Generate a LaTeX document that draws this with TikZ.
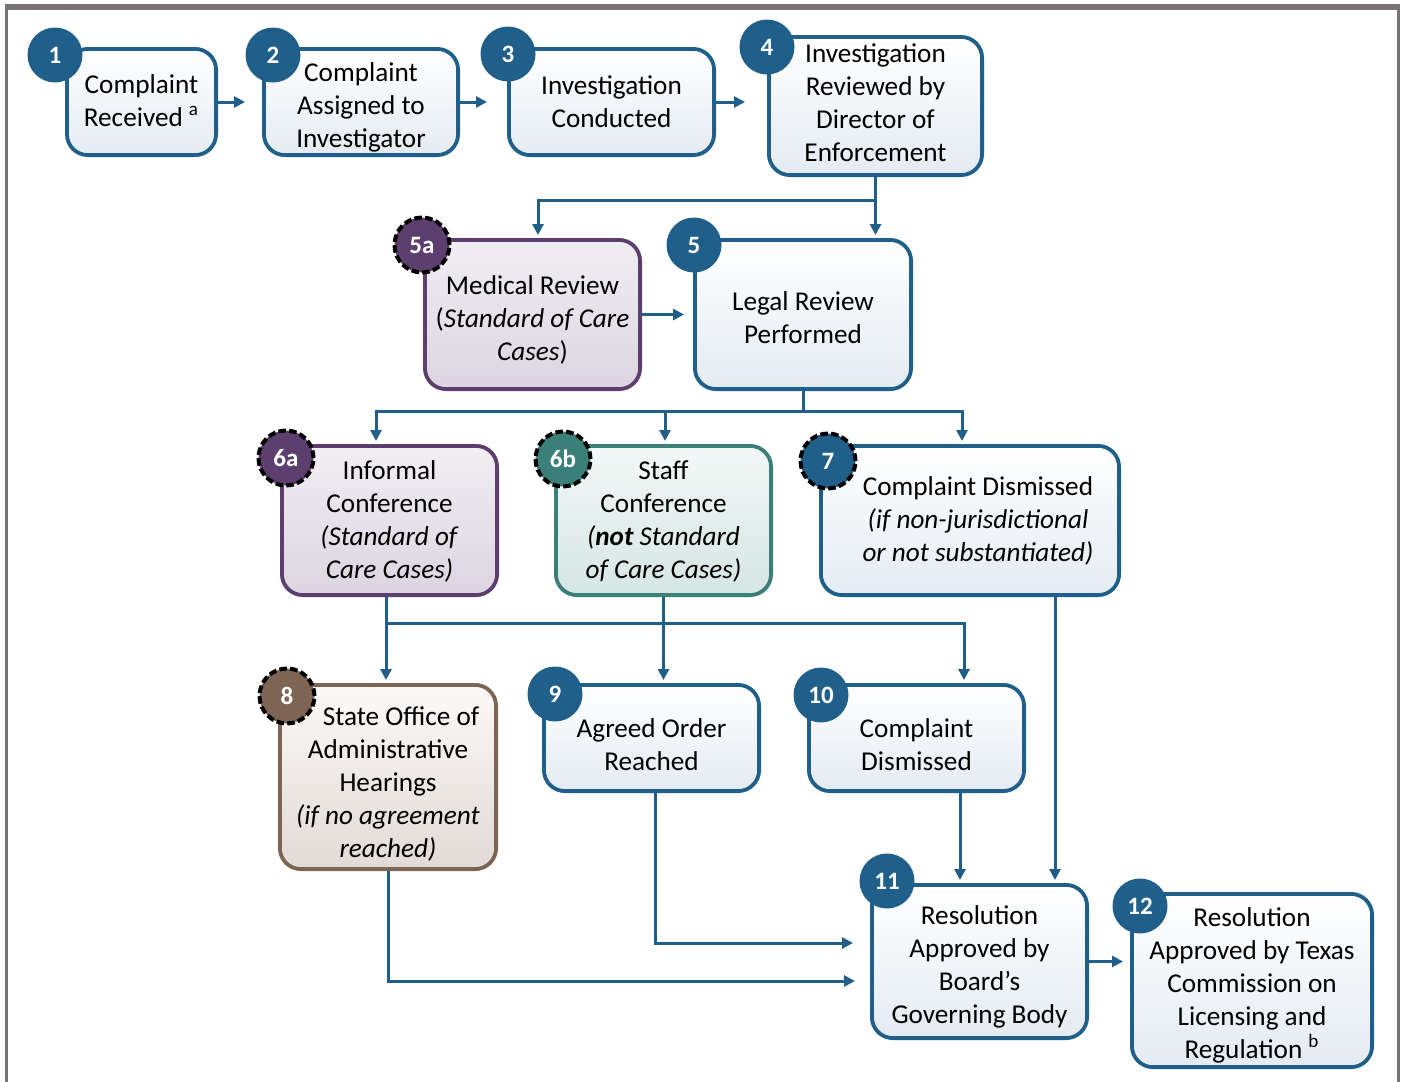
\documentclass[tikz,border=0pt]{standalone}
\usepackage{fontspec}
\setmainfont{Carlito}
\usetikzlibrary{arrows.meta}

\definecolor{tblue}{HTML}{1F5F8A}
\definecolor{tblueb}{HTML}{E4EBF2}
\definecolor{tpurple}{HTML}{5C3F6E}
\definecolor{tpurplet}{HTML}{F1EEF3}
\definecolor{tpurpleb}{HTML}{DCD5E1}
\definecolor{tteal}{HTML}{3A8078}
\definecolor{ttealt}{HTML}{F3F8F7}
\definecolor{ttealb}{HTML}{D5E6E3}
\definecolor{tbrown}{HTML}{7E6453}
\definecolor{tbrownt}{HTML}{FBF9F8}
\definecolor{tbrownb}{HTML}{E2DAD5}
\definecolor{framegray}{HTML}{777372}

% strut on a first line, pushes the text down a little
\newcommand{\padtop}[1]{\rule{0pt}{#1}}

\begin{document}
\begin{tikzpicture}[x=0.5pt,y=-0.5pt,>={Triangle[length=5.5pt,width=5.5pt]},
    font=\fontsize{13.6}{16.5}\selectfont,
    stage/.style={draw=tblue, line width=1.9pt, rounded corners=10.5pt, align=center,
      top color=white, bottom color=tblueb, inner sep=2pt},
    medstage/.style={stage, draw=tpurple, top color=tpurplet, bottom color=tpurpleb},
    staffstage/.style={stage, draw=tteal, top color=ttealt, bottom color=ttealb},
    hearstage/.style={stage, draw=tbrown, top color=tbrownt, bottom color=tbrownb},
    badge/.style={circle, fill=tblue, text=white, minimum size=27.5pt, inner sep=0pt,
      font=\fontsize{12.5}{14}\selectfont\bfseries},
    optbadge/.style={badge, draw=black, line width=2pt, dash pattern=on 3.8pt off 1.6pt},
    flow/.style={->, draw=tblue, line width=1.5pt, shorten >=1.5pt}]

  \useasboundingbox (0,0) rectangle (1405,1082);

  % frame
  \fill[framegray] (5,4) rectangle (1400,10);
  \fill[framegray] (5,4) rectangle (7.5,1082);
  \fill[framegray] (1397,4) rectangle (1399.5,1082);

  % stages
  \node[stage, minimum width=74.6pt, minimum height=53.1pt, text depth=1.5pt] (Received) at (141.5,102)
    {Complaint\\Received \textsuperscript{a}};
  \node[stage, minimum width=97.1pt, minimum height=53.1pt, text depth=0pt] (Assigned) at (361,102)
    {\padtop{12pt}Complaint\\Assigned to\\Investigator};
  \node[stage, minimum width=102.6pt, minimum height=53.1pt] (Conducted) at (611.5,102)
    {Investigation\\Conducted};
  \node[stage, minimum width=106.6pt, minimum height=69.1pt, text depth=3pt] (Reviewed) at (875.5,106)
    {Investigation\\Reviewed by\\Director of\\Enforcement};

  \node[medstage, minimum width=107.6pt, minimum height=74.6pt, text depth=0pt] (Medical) at (532.5,314.5)
    {\padtop{12.5pt}Medical Review\\(\textit{Standard of Care}\\\textit{Cases})};
  \node[stage, minimum width=108.1pt, minimum height=74.6pt, text depth=0pt] (Legal) at (803,314.5)
    {\padtop{12.5pt}Legal Review\\Performed};

  \node[medstage, minimum width=107.6pt, minimum height=74.6pt, text depth=1.4pt] (Informal) at (389.5,520.5)
    {Informal\\Conference\\\textit{(Standard of}\\\textit{Care Cases)}};
  \node[staffstage, minimum width=107.6pt, minimum height=74.6pt, text depth=1.4pt] (Staff) at (663.5,520.5)
    {Staff\\Conference\\\textit{(\textbf{not} Standard}\\\textit{of Care Cases)}};
  \node[stage, minimum width=149.1pt, minimum height=74.6pt] (Dismissed) at (970,520.5)
    {\hspace*{8pt}Complaint Dismissed\\\hspace*{8pt}\textit{(if non-jurisdictional}\\\hspace*{8pt}\textit{or not substantiated)}};

  \node[hearstage, minimum width=108.1pt, minimum height=92.1pt, text depth=0pt] (Hearings) at (388,777)
    {\padtop{14.5pt}\hspace*{13pt}State Office of\\Administrative\\Hearings\\\textit{(if no agreement}\\\textit{reached)}};
  \node[stage, minimum width=107.6pt, minimum height=53.1pt, text depth=0pt] (Agreed) at (651.5,738)
    {\padtop{15.5pt}Agreed Order\\Reached};
  \node[stage, minimum width=107.6pt, minimum height=53.1pt, text depth=0pt] (Closed) at (916.5,738)
    {\padtop{15.5pt}Complaint\\Dismissed};

  \node[stage, minimum width=107.6pt, minimum height=76.6pt, text depth=0pt] (Board) at (979.5,961.5)
    {\padtop{12.5pt}Resolution\\Approved by\\Board’s\\Governing Body};
  \node[stage, minimum width=120.1pt, minimum height=86.6pt, text depth=0pt] (Commission) at (1252,980.5)
    {\padtop{11.5pt}Resolution\\Approved by Texas\\Commission on\\Licensing and\\Regulation \textsuperscript{b}};

  % step numbers
  \node[badge] (nReceived) at (55,55) {1};
  \node[badge] (nAssigned) at (273,55) {2};
  \node[badge] (nConducted) at (508,54) {3};
  \node[badge] (nReviewed) at (767,47) {4};
  \node[optbadge, fill=tpurple] (nMedical) at (422,245) {5a};
  \node[badge] (nLegal) at (694,245) {5};
  \node[optbadge, fill=tpurple] (nInformal) at (286,458) {6a};
  \node[optbadge, fill=tteal] (nStaff) at (563,459) {6b};
  \node[optbadge] (nDismissed) at (828,461) {7};
  \node[optbadge, fill=tbrown] (nHearings) at (287,696) {8};
  \node[badge] (nAgreed) at (555,694) {9};
  \node[badge] (nClosed) at (821,695) {10};
  \node[badge] (nBoard) at (887,881) {11};
  \node[badge] (nCommission) at (1140,906) {12};

  % connectors
  \draw[flow, shorten >=8.5pt] (Received) -- (Assigned);
  \draw[flow, shorten >=10pt] (Assigned) -- (Conducted);
  \draw[flow, shorten >=11pt] (Conducted.east) -- (Conducted.east -| Reviewed.west);
  \draw[flow] (Reviewed.south) -- (Reviewed.south |- Legal.north);
  \draw[flow] (Reviewed.south) ++(0,23) -| ([xshift=2.75pt]Medical.north);
  \draw[flow, shorten >=4.5pt] (Medical) -- (Legal);

  \draw[flow] (Legal.south) -- ++(0,20) -| ([xshift=-6.75pt]Informal.north);
  \draw[flow] (Legal.south) ++(0,20) -| ([xshift=0.75pt]Staff.north);
  \draw[flow] (Legal.south) ++(0,20) -| ([xshift=-4pt]Dismissed.north);

  \draw[flow] ([xshift=-1.75pt]Informal.south) -- ([xshift=-1.75pt]Informal.south |- Hearings.north);
  \draw[flow] (Staff.south) -- (Staff.south |- Agreed.north);
  \draw[flow] ([xshift=-1.75pt]Informal.south) ++(0,26) -| ([xshift=23.75pt]Closed.north);

  \draw[flow] ([xshift=42.5pt]Dismissed.south) -- ([xshift=42.5pt]Dismissed.south |- Board.north);
  \draw[flow] ([xshift=21.75pt]Closed.south) -- ([xshift=21.75pt]Closed.south |- Board.north);
  \draw[flow, shorten >=8.5pt] ([xshift=1.75pt]Agreed.south) |- ([yshift=9.25pt]Board.west);
  \draw[flow, shorten >=7.5pt] (Hearings.south) |- ([yshift=-9.75pt]Board.west);
  \draw[flow, shorten >=3.5pt] (Board.east) -- (Board.east -| Commission.west);

\end{tikzpicture}
\end{document}
